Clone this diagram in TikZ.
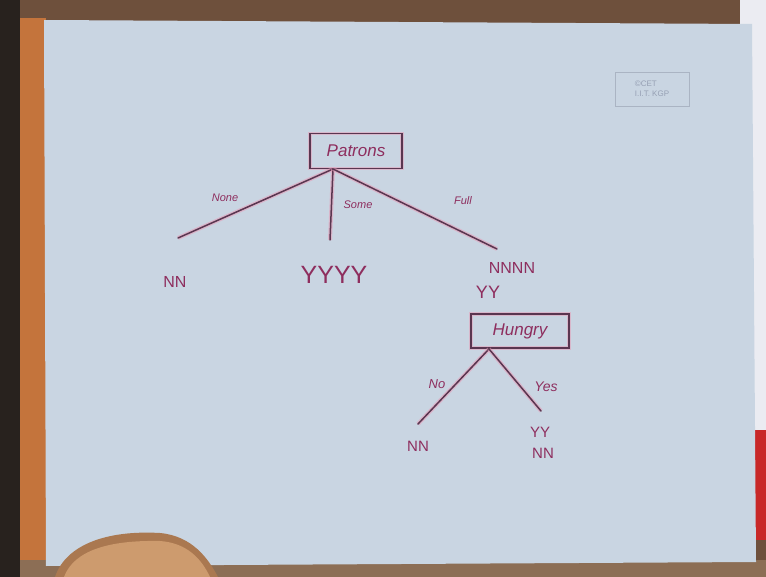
\documentclass[tikz,border=0pt]{standalone}
\usepackage{fontspec}
\setmainfont{Liberation Sans}
\begin{document}
\begin{tikzpicture}[x=1pt,y=-1pt,
  ink/.style={draw=inkc, line width=1.5pt, line cap=round,
    preaction={draw=glow, line width=4pt, opacity=0.55}},
  boxed/.style={draw=inkc, line width=1.3pt, inner sep=4pt, text=txt,
    font=\itshape\fontsize{17}{17}\selectfont,
    preaction={draw=glow, line width=3.5pt, opacity=0.5}},
  hand/.style={text=txt, font=\fontsize{#1}{#1}\selectfont, inner sep=0pt},
  hand/.default=14,
  lbl/.style={text=txt, font=\itshape\fontsize{11}{11}\selectfont, inner sep=0pt}]
\definecolor{inkc}{HTML}{5A3650}
\definecolor{glow}{HTML}{E79AB6}
\definecolor{txt}{HTML}{8E2E5E}
\definecolor{paper}{HTML}{C9D5E2}
\useasboundingbox (0,0) rectangle (766,577);
% background: frame, paper
\fill[fill={rgb,255:red,110;green,80;blue,60}] (0,0) rectangle (766,577);
\fill[fill={rgb,255:red,40;green,34;blue,30}] (0,0) rectangle (20,577);
\fill[fill={rgb,255:red,196;green,116;blue,60}] (20,18) rectangle (46,577);
\fill[fill={rgb,255:red,235;green,236;blue,242}] (740,0) rectangle (766,430);
\fill[fill={rgb,255:red,200;green,40;blue,40}] (755,430) rectangle (766,540);
\fill[fill={rgb,255:red,140;green,110;blue,85}] (20,560) rectangle (766,577);
\fill[paper] (44,20) -- (752,24) -- (756,562) -- (46,566) -- cycle;
% hand at bottom left
\fill[fill={rgb,255:red,170;green,120;blue,80}] (55,577) .. controls (66,544) and (108,530) .. (160,533) .. controls (192,536) and (208,558) .. (218,577) -- cycle;
\fill[fill={rgb,255:red,205;green,155;blue,110}] (64,577) .. controls (74,550) and (110,540) .. (160,541) .. controls (188,543) and (202,560) .. (210,577) -- cycle;
% watermark
\node[draw={rgb,255:red,170;green,180;blue,195}, line width=0.7pt, text={rgb,255:red,150;green,160;blue,180},
  font=\fontsize{8}{10}\selectfont, align=left, inner sep=3pt, minimum width=74pt, minimum height=34pt] (wm) at (652,89) {©CET\\I.I.T. KGP};
% tree
\node[boxed, minimum width=92pt, minimum height=35pt] (patrons) at (356,151) {Patrons};
\coordinate (pa) at (333,169);
\coordinate (noneEnd) at (178,238);
\coordinate (someEnd) at (330,240);
\coordinate (fullEnd) at (497,249);
\draw[ink] (pa) -- (noneEnd);
\draw[ink] (pa) -- (someEnd);
\draw[ink] (pa) -- (fullEnd);
\node[lbl] (lnone) at (225,198) {None};
\node[lbl] (lsome) at (358,205) {Some};
\node[lbl] (lfull) at (463,201) {Full};
\node[hand=16] (nn1) at (175,282) {NN};
\node[hand=25] (yyyy) at (334,275) {YYYY};
\node[hand=16] (nnnn) at (512,268) {NNNN};
\node[hand=18] (yy1) at (488,292) {YY};
\node[boxed, minimum width=98pt, minimum height=34pt] (hungry) at (520,331) {Hungry};
\coordinate (ha) at (489,349);
\coordinate (noEnd) at (418,424);
\coordinate (yesEnd) at (541,411);
\draw[ink] (ha) -- (noEnd);
\draw[ink] (ha) -- (yesEnd);
\node[lbl, font=\itshape\fontsize{13}{13}\selectfont] (lno) at (437,384) {No};
\node[lbl, font=\itshape\fontsize{14}{14}\selectfont] (lyes) at (546,387) {Yes};
\node[hand=15] (nn2) at (418,446) {NN};
\node[hand=15] (yy2) at (540,432) {YY};
\node[hand=15] (nn3) at (543,453) {NN};
\end{tikzpicture}
\end{document}
